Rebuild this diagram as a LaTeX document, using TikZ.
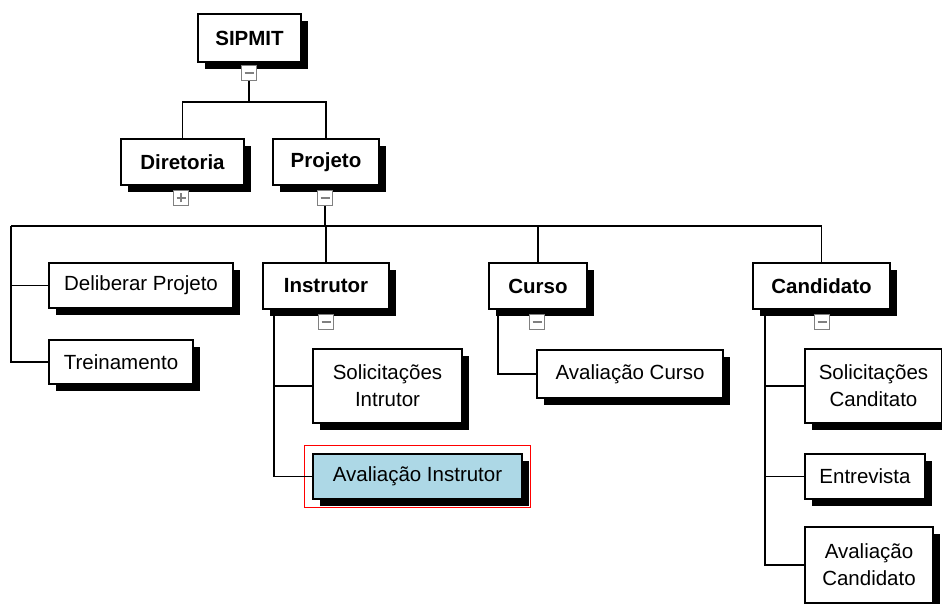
\documentclass[tikz,border=0pt]{standalone}
\usepackage{fontspec}
\setmainfont{Liberation Sans}
\usetikzlibrary{shadows}
\begin{document}
\begin{tikzpicture}[x=1pt,y=-1pt,
  box/.style={draw=black, line width=1.6pt, fill=white, inner sep=0pt, align=center,
    font=\fontsize{20.5}{27}\selectfont,
    drop shadow={shadow xshift=7pt, shadow yshift=-7pt, fill=black, opacity=1}},
  hbox/.style={box, font=\fontsize{20.5}{27}\selectfont\bfseries},
  selbox/.style={box, fill={rgb,255:red,173;green,216;blue,230}},
  tog/.style={draw={rgb,255:red,128;green,128;blue,128}, line width=1.3pt, fill=white, minimum width=15pt, minimum height=15pt, inner sep=0pt},
  minustog/.style={tog, path picture={\draw[line width=1.5pt]
      ([xshift=-4.5pt]path picture bounding box.center) -- ([xshift=4.5pt]path picture bounding box.center);}},
  plustog/.style={tog, path picture={\draw[line width=1.5pt]
      ([xshift=-4.5pt]path picture bounding box.center) -- ([xshift=4.5pt]path picture bounding box.center)
      ([yshift=-4.5pt]path picture bounding box.center) -- ([yshift=4.5pt]path picture bounding box.center);}},
  conn/.style={line width=1.7pt}
]
\useasboundingbox (0,0) rectangle (942,604);

\coordinate (b1) at (249,102);
\coordinate (b2) at (325,226);
\coordinate (bl) at (11,226);

% nodes
\node[hbox, minimum width=103pt, minimum height=48pt] (sip) at (249.5,38) {SIPMIT};
\node[hbox, minimum width=123pt, minimum height=46pt] (dir) at (182.5,162) {Diretoria};
\node[hbox, minimum width=106pt, minimum height=46pt] (proj) at (326,162) {Projeto};
\node[box, minimum width=184pt, minimum height=45pt] (del) at (141,285.5) {Deliberar Projeto};
\node[box, minimum width=144pt, minimum height=44pt] (tre) at (121,362) {Treinamento};
\node[hbox, minimum width=126pt, minimum height=46pt] (ins) at (326,286) {Instrutor};
\node[hbox, minimum width=98pt, minimum height=46pt] (cur) at (538,286) {Curso};
\node[hbox, minimum width=137pt, minimum height=46pt] (cand) at (821.5,286) {Candidato};
\node[box, minimum width=149pt, minimum height=74pt] (si) at (387.5,386) {Solicitações\\Intrutor};
\node[selbox, minimum width=209pt, minimum height=45pt] (ai) at (417.5,476.5) {Avaliação Instrutor};
\node[box, minimum width=186pt, minimum height=48pt] (ac) at (630,374) {Avaliação Curso};
\node[box, minimum width=137pt, minimum height=74pt] (sc) at (873.5,386) {Solicitações\\Canditato};
\node[box, minimum width=120pt, minimum height=45pt] (ent) at (865,476.5) {Entrevista};
\node[box, minimum width=128pt, minimum height=76pt] (acd) at (869,565) {Avaliação\\Candidato};

\draw[red, line width=1.1pt] ([shift={(-8pt,8pt)}]ai.north west) rectangle ([shift={(8pt,-8pt)}]ai.south east);

% toggles
\node[minustog] (tS) at (249,73) {};
\node[plustog] (tD) at (181,198) {};
\node[minustog] (tP) at (325,198) {};
\node[minustog] (tI) at (326,322) {};
\node[minustog] (tC) at (537,322) {};
\node[minustog] (tK) at (822,322) {};

% connectors
\draw[conn] (tS.south) -- (b1);
\draw[conn] (b1) -| (dir.north);
\draw[conn] (b1) -| (proj.north);
\draw[conn] (tP.south) -- (b2);
\draw[conn] (b2) -| (ins.north);
\draw[conn] (b2) -| (cur.north);
\draw[conn] (b2) -| (cand.north);
\draw[conn] (b2) -- (bl);
\draw[conn] (bl) |- (del.west);
\draw[conn] (bl) |- (tre.west);
\draw[conn] ([xshift=12pt]ins.south west) |- (si.west);
\draw[conn] ([xshift=12pt]ins.south west) |- (ai.west);
\draw[conn] ([xshift=10pt]cur.south west) |- (ac.west);
\draw[conn] ([xshift=13pt]cand.south west) |- (sc.west);
\draw[conn] ([xshift=13pt]cand.south west) |- (ent.west);
\draw[conn] ([xshift=13pt]cand.south west) |- (acd.west);
\end{tikzpicture}
\end{document}
